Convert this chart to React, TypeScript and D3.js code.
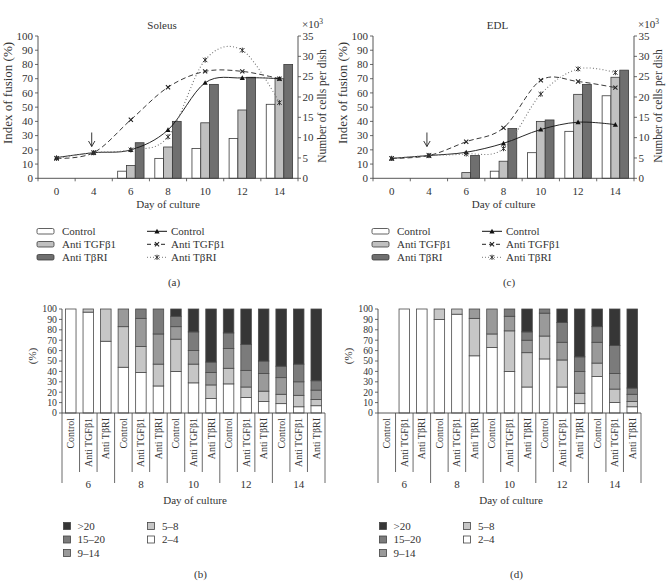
import React from 'react';
import * as d3 from 'd3';

// ---------- Top panels data ----------
const days = ['0', '4', '6', '8', '10', '12', '14'];
const seriesNames = ['Control', 'Anti TGFβ1', 'Anti TβRI'];

// Index of fusion (%) – bars
const soleusFusionControl = [0, 0, 5, 14, 21, 28, 52];
const soleusFusionTGF = [0, 0, 9, 22, 39, 48, 70];
const soleusFusionTBRI = [0, 0, 25, 40, 66, 71, 80];

const edlFusionControl = [0, 0, 0, 5, 18, 33, 58];
const edlFusionTGF = [0, 0, 4, 12, 40, 59, 71];
const edlFusionTBRI = [0, 0, 16, 35, 41, 66, 76];

// Number of cells per dish (x10^3) – lines
const soleusCellsControl = [5.1, 6.3, 7.0, 11.9, 23.5, 24.7, 24.5];
const soleusCellsTGF = [4.9, 6.3, 14.4, 22.4, 26.3, 26.3, 24.5];
const soleusCellsTBRI = [4.9, 6.3, 7.0, 10.2, 29.1, 31.5, 18.6];

const edlCellsControl = [4.9, 5.6, 6.4, 8.6, 12.0, 13.8, 13.2];
const edlCellsTGF = [4.9, 5.6, 9.0, 12.4, 24.1, 23.8, 22.3];
const edlCellsTBRI = [4.9, 5.6, 6.0, 7.3, 20.7, 26.9, 26.0];

const leftTicks = [0, 10, 20, 30, 40, 50, 60, 70, 80, 90, 100];
const rightTicks = [0, 5, 10, 15, 20, 25, 30, 35];

// ---------- Bottom panels data ----------
const stackDays = ['6', '8', '10', '12', '14'];
const stackCategories = [
  'Control', 'Anti TGFβ1', 'Anti TβRI',
  'Control', 'Anti TGFβ1', 'Anti TβRI',
  'Control', 'Anti TGFβ1', 'Anti TβRI',
  'Control', 'Anti TGFβ1', 'Anti TβRI',
  'Control', 'Anti TGFβ1', 'Anti TβRI',
];
const classKeys = ['2–4', '5–8', '9–14', '15–20', '>20'];

const soleus2to4 = [100, 97, 69, 44, 39, 26, 40, 29, 14, 28, 15, 11, 9, 6, 7];
const soleus5to8 = [0, 3, 31, 39, 25, 21, 31, 18, 13, 15, 10, 10, 9, 11, 6];
const soleus9to14 = [0, 0, 0, 17, 27, 29, 12, 13, 12, 19, 16, 17, 16, 13, 9];
const soleus15to20 = [0, 0, 0, 0, 9, 24, 10, 18, 10, 15, 25, 12, 11, 17, 9];
const soleusOver20 = [0, 0, 0, 0, 0, 0, 7, 22, 51, 23, 34, 50, 55, 53, 69];

const edl2to4 = [0, 100, 100, 90, 95, 55, 63, 40, 25, 52, 25, 9, 35, 10, 6];
const edl5to8 = [0, 0, 0, 10, 5, 36, 13, 39, 33, 22, 26, 10, 13, 13, 5];
const edl9to14 = [0, 0, 0, 0, 0, 9, 24, 14, 12, 22, 17, 21, 20, 15, 7];
const edl15to20 = [0, 0, 0, 0, 0, 0, 0, 7, 8, 4, 19, 14, 15, 27, 6];
const edlOver20 = [0, 0, 0, 0, 0, 0, 0, 0, 22, 0, 13, 46, 17, 35, 76];

const pctTicks = [0, 10, 20, 30, 40, 50, 60, 70, 80, 90, 100];

// ---------- styles ----------
const FONT = "'Liberation Serif', 'Times New Roman', serif";
const TXT = '#333';
const AX = '#444';
const FS = 11;
const barFills = ['#ffffff', '#c0c0c0', '#6f6f6f'];
const classFills: Record<string, string> = {
  '2–4': '#ffffff',
  '5–8': '#c6c6c6',
  '9–14': '#9a9a9a',
  '15–20': '#7b7b7b',
  '>20': '#363636',
};

const PLOT_TOP = 36;
const PLOT_BOT = 178.3;

function Marker({ kind, x, y }: { kind: number; x: number; y: number }) {
  if (kind === 0) {
    const s = 2.6;
    return <path d={`M${x},${y - s} L${x + s},${y + s * 0.8} L${x - s},${y + s * 0.8} Z`} fill="#111" />;
  }
  if (kind === 1) {
    const s = 2.1;
    return (
      <path d={`M${x - s},${y - s} L${x + s},${y + s} M${x - s},${y + s} L${x + s},${y - s}`} stroke="#222" strokeWidth={1.1} />
    );
  }
  const s = 2.2;
  return (
    <path
      d={`M${x - s},${y - s} L${x + s},${y + s} M${x - s},${y + s} L${x + s},${y - s} M${x},${y - s - 0.4} L${x},${y + s + 0.4}`}
      stroke="#333"
      strokeWidth={1}
    />
  );
}

const lineDash = ['none', '5,3', '1,2.2'];
const lineStroke = ['#111', '#222', '#777'];

function TopPanel(props: {
  left: number;
  right: number;
  title: string;
  bars: number[][];
  lines: number[][];
  letter: string;
}) {
  const { left, right, title, bars, lines, letter } = props;
  const x = d3.scaleBand<string>().domain(days).range([left, right]).padding(0);
  const inner = d3
    .scaleBand<string>()
    .domain(seriesNames)
    .range([x.bandwidth() * 0.145, x.bandwidth() * 0.855])
    .padding(0);
  const yL = d3.scaleLinear().domain([0, 100]).range([PLOT_BOT, PLOT_TOP]);
  const yR = d3.scaleLinear().domain([0, 35]).range([PLOT_BOT, PLOT_TOP]);
  const line = d3
    .line<number>()
    .x((_, i) => (x(days[i]) as number) + x.bandwidth() / 2)
    .y((v) => yR(v))
    .curve(d3.curveCardinal.tension(0));
  const cx = (left + right) / 2;
  const arrowX = (x('4') as number) + x.bandwidth() / 2 - 2;

  return (
    <g>
      {bars.map((series, si) =>
        series.map((v, di) =>
          v > 0 ? (
            <rect
              key={`b${si}-${di}`}
              x={(x(days[di]) as number) + (inner(seriesNames[si]) as number)}
              y={yL(v)}
              width={inner.bandwidth()}
              height={yL(0) - yL(v)}
              fill={barFills[si]}
              stroke="#3a3a3a"
              strokeWidth={0.8}
            />
          ) : null
        )
      )}
      {lines.map((series, si) => (
        <path
          key={`l${si}`}
          d={line(series) as string}
          fill="none"
          stroke={lineStroke[si]}
          strokeWidth={si === 2 ? 1.1 : 0.9}
          strokeDasharray={lineDash[si]}
        />
      ))}
      {lines.map((series, si) =>
        series.map((v, di) => (
          <Marker key={`m${si}-${di}`} kind={si} x={(x(days[di]) as number) + x.bandwidth() / 2} y={yR(v)} />
        ))
      )}
      <path d={`M${arrowX},${132.5} L${arrowX},${146.5}`} stroke="#222" strokeWidth={0.9} />
      <path d={`M${arrowX - 3.2},${141} L${arrowX},${146.5} L${arrowX + 3.2},${141}`} fill="none" stroke="#222" strokeWidth={0.9} />

      <line x1={left} x2={left} y1={PLOT_TOP} y2={PLOT_BOT} stroke={AX} strokeWidth={0.9} />
      <line x1={right} x2={right} y1={PLOT_TOP} y2={PLOT_BOT} stroke={AX} strokeWidth={0.9} />
      <line x1={left} x2={right} y1={PLOT_BOT} y2={PLOT_BOT} stroke={AX} strokeWidth={0.9} />
      {days.map((d, i) => (
        <line key={`xt${i}`} x1={x(d) as number} x2={x(d) as number} y1={PLOT_BOT} y2={PLOT_BOT + 3} stroke={AX} strokeWidth={0.8} />
      ))}
      <line x1={right} x2={right} y1={PLOT_BOT} y2={PLOT_BOT + 3} stroke={AX} strokeWidth={0.8} />
      {days.map((d) => (
        <text key={`xl${d}`} x={(x(d) as number) + x.bandwidth() / 2} y={194.5} textAnchor="middle" fontSize={FS} fill={TXT}>
          {d}
        </text>
      ))}
      {leftTicks.map((t) => (
        <g key={`yl${t}`}>
          <line x1={left - 3} x2={left} y1={yL(t)} y2={yL(t)} stroke={AX} strokeWidth={0.8} />
          <text x={left - 5} y={yL(t)} dy="0.34em" textAnchor="end" fontSize={FS} fill={TXT}>
            {t}
          </text>
        </g>
      ))}
      {rightTicks.map((t) => (
        <g key={`yr${t}`}>
          <line x1={right} x2={right + 3} y1={yR(t)} y2={yR(t)} stroke={AX} strokeWidth={0.8} />
          <text x={right + 4.5} y={yR(t)} dy="0.34em" textAnchor="start" fontSize={FS} fill={TXT}>
            {t}
          </text>
        </g>
      ))}
      <text x={right + 4} y={28} fontSize={FS} fill={TXT}>
        ×10<tspan dy={-4} fontSize={7.5}>3</tspan>
      </text>
      <text x={cx - 6} y={29} textAnchor="middle" fontSize={FS} fill={TXT}>
        {title}
      </text>
      <text transform={`translate(${left - 26},${93}) rotate(-90)`} textAnchor="middle" fontSize={13} fill={TXT}>
        Index of fusion (%)
      </text>
      <text transform={`translate(${right + 28},${106}) rotate(-90)`} textAnchor="middle" fontSize={11.5} fill={TXT}>
        Number of cells per dish
      </text>
      <text x={cx} y={208} textAnchor="middle" fontSize={FS} fill={TXT}>
        Day of culture
      </text>

      {seriesNames.map((n, i) => (
        <g key={`lgb${i}`}>
          <rect x={left - 1} y={228.5 + i * 13} width={17} height={5.5} rx={1.5} fill={barFills[i]} stroke="#3a3a3a" strokeWidth={0.8} />
          <text x={left + 24} y={235 + i * 13} fontSize={FS} fill={TXT}>
            {n}
          </text>
        </g>
      ))}
      {seriesNames.map((n, i) => (
        <g key={`lgl${i}`}>
          <line
            x1={left + 109}
            x2={left + 129}
            y1={231.3 + i * 13}
            y2={231.3 + i * 13}
            stroke={lineStroke[i]}
            strokeWidth={1}
            strokeDasharray={i === 0 ? 'none' : i === 1 ? '4,3' : '1,2'}
          />
          <Marker kind={i} x={left + 119} y={231.3 + i * 13} />
          <text x={left + 133} y={235 + i * 13} fontSize={FS} fill={TXT}>
            {n}
          </text>
        </g>
      ))}
      <text x={left + 136} y={286} textAnchor="middle" fontSize={FS} fill={TXT}>
        ({letter})
      </text>
    </g>
  );
}

const B_TOP = 309;
const B_BOT = 413;

function BottomPanel(props: { left: number; right: number; values: number[][]; letter: string }) {
  const { left, right, values, letter } = props;
  const idx = stackCategories.map((_, i) => String(i));
  const x = d3.scaleBand<string>().domain(idx).range([left, right]).padding(0);
  const y = d3.scaleLinear().domain([0, 100]).range([B_BOT, B_TOP]);
  const rows = idx.map((_, i) => {
    const o: Record<string, number> = {};
    classKeys.forEach((k, ki) => (o[k] = values[ki][i]));
    return o;
  });
  const stacked = d3.stack<Record<string, number>>().keys(classKeys)(rows);
  const bw = x.bandwidth() * 0.6;
  const cx = (left + right) / 2;

  return (
    <g>
      {stacked.map((layer) =>
        layer.map((seg, i) =>
          seg[1] - seg[0] > 0 ? (
            <rect
              key={`${layer.key}-${i}`}
              x={(x(idx[i]) as number) + (x.bandwidth() - bw) / 2}
              y={y(seg[1])}
              width={bw}
              height={y(seg[0]) - y(seg[1])}
              fill={classFills[layer.key]}
              stroke="#4a4a4a"
              strokeWidth={0.8}
            />
          ) : null
        )
      )}
      <line x1={left} x2={left} y1={B_TOP} y2={B_BOT} stroke={AX} strokeWidth={0.9} />
      {pctTicks.map((t) => (
        <g key={`pt${t}`}>
          <line x1={left - 3} x2={left} y1={y(t)} y2={y(t)} stroke={AX} strokeWidth={0.8} />
          <text x={left - 5} y={y(t)} dy="0.34em" textAnchor="end" fontSize={9.8} fill={TXT}>
            {t}
          </text>
        </g>
      ))}
      <text transform={`translate(${left - 30},${356}) rotate(-90)`} textAnchor="middle" dominantBaseline="central" fontSize={FS} fill={TXT}>
        (%)
      </text>
      <line x1={left} x2={right} y1={B_BOT} y2={B_BOT} stroke={AX} strokeWidth={0.9} />
      {idx.map((d, i) => (
        <line
          key={`sep${i}`}
          x1={x(d) as number}
          x2={x(d) as number}
          y1={B_BOT}
          y2={i % 3 === 0 ? B_BOT + 70 : B_BOT + 59}
          stroke={AX}
          strokeWidth={0.8}
        />
      ))}
      <line x1={right} x2={right} y1={B_BOT} y2={B_BOT + 70} stroke={AX} strokeWidth={0.8} />
      {stackCategories.map((c, i) => (
        <text
          key={`cl${i}`}
          transform={`translate(${(x(idx[i]) as number) + x.bandwidth() / 2},${B_BOT + 5}) rotate(-90)`}
          textAnchor="end"
          dominantBaseline="central"
          fontSize={10}
          fill={TXT}
        >
          {c}
        </text>
      ))}
      {stackDays.map((d, g) => (
        <text
          key={`gd${d}`}
          x={(x(idx[g * 3]) as number) + x.bandwidth() * 1.5}
          y={B_BOT + 75}
          textAnchor="middle"
          fontSize={FS}
          fill={TXT}
        >
          {d}
        </text>
      ))}
      <text x={cx + 1.5} y={504} textAnchor="middle" fontSize={FS} fill={TXT}>
        Day of culture
      </text>
      {['>20', '15–20', '9–14'].map((k, i) => (
        <g key={`lg1${k}`}>
          <rect x={left + 1.5} y={522.5 + i * 13.5} width={7} height={7} fill={classFills[k]} stroke="#444" strokeWidth={0.8} />
          <text x={left + 15.5} y={529.5 + i * 13.5} fontSize={FS} fill={TXT}>
            {k}
          </text>
        </g>
      ))}
      {['5–8', '2–4'].map((k, i) => (
        <g key={`lg2${k}`}>
          <rect x={left + 85.5} y={522.5 + i * 13.5} width={7} height={7} fill={classFills[k]} stroke="#444" strokeWidth={0.8} />
          <text x={left + 100} y={529.5 + i * 13.5} fontSize={FS} fill={TXT}>
            {k}
          </text>
        </g>
      ))}
      <text x={cx + 7} y={578} textAnchor="middle" fontSize={FS} fill={TXT}>
        ({letter})
      </text>
    </g>
  );
}

export default function App() {
  return (
    <svg
      width={669}
      height={584}
      viewBox="0 0 669 584"
      style={{ position: 'absolute', left: 0, top: 0, background: '#fff', fontFamily: FONT }}
    >
      <rect width={669} height={584} fill="#fff" />
      <TopPanel
        left={38}
        right={298}
        title="Soleus"
        bars={[soleusFusionControl, soleusFusionTGF, soleusFusionTBRI]}
        lines={[soleusCellsControl, soleusCellsTGF, soleusCellsTBRI]}
        letter="a"
      />
      <TopPanel
        left={373}
        right={634}
        title="EDL"
        bars={[edlFusionControl, edlFusionTGF, edlFusionTBRI]}
        lines={[edlCellsControl, edlCellsTGF, edlCellsTBRI]}
        letter="c"
      />
      <BottomPanel
        left={62}
        right={325}
        values={[soleus2to4, soleus5to8, soleus9to14, soleus15to20, soleusOver20]}
        letter="b"
      />
      <BottomPanel
        left={378}
        right={641}
        values={[edl2to4, edl5to8, edl9to14, edl15to20, edlOver20]}
        letter="d"
      />
    </svg>
  );
}
